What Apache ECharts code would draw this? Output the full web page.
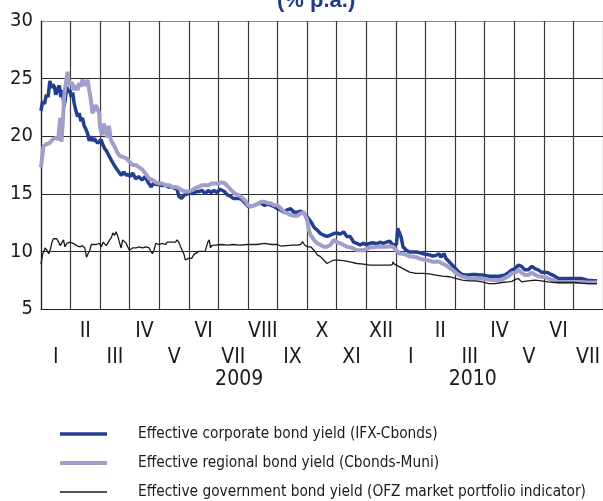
<!DOCTYPE html>
<html>
<head>
<meta charset="utf-8">
<script src="https://cdn.jsdelivr.net/npm/echarts@6/dist/echarts.min.js"></script>
<style>
  html, body { margin: 0; padding: 0; background: #fff; }
  #chart { width: 603px; height: 501px; }
</style>
</head>
<body>
<div id="chart"></div>
<script>
// time is in months counted from 1 January 2009 (0 = start of Jan 2009)
var monthLabels = ['I', 'II', 'III', 'IV', 'V', 'VI', 'VII', 'VIII', 'IX', 'X', 'XI', 'XII',
                   'I', 'II', 'III', 'IV', 'V', 'VI', 'VII'];
var yearLabels = ['2009', '2010'];
var yearPos = [6.7, 14.6];

var corporate = [
  [0, 22.2], [0.05, 23.0], [0.12, 22.8], [0.18, 23.6], [0.24, 23.4], [0.3, 24.8], [0.35, 24.2],
  [0.4, 24.5], [0.45, 24.3], [0.5, 23.6], [0.56, 24.1], [0.62, 24.4], [0.67, 23.4], [0.72, 24.0],
  [0.78, 22.6], [0.82, 23.2], [0.87, 24.3], [0.93, 23.8], [0.98, 24.0], [1.02, 23.4], [1.07, 23.8],
  [1.12, 22.9], [1.18, 22.2], [1.24, 21.7], [1.29, 22.0], [1.35, 21.3], [1.4, 21.6], [1.46, 20.9],
  [1.52, 20.6], [1.58, 20.2], [1.63, 19.6], [1.69, 20.0], [1.74, 19.6], [1.8, 19.8], [1.85, 19.6],
  [1.92, 19.4], [1.97, 19.5], [2.03, 19.7], [2.1, 19.2], [2.16, 18.9], [2.22, 18.7], [2.3, 18.3],
  [2.38, 17.9], [2.45, 17.6], [2.52, 17.3], [2.6, 17.0], [2.66, 16.8], [2.72, 16.6], [2.8, 16.9],
  [2.88, 16.6], [2.95, 16.7], [3.02, 16.5], [3.1, 16.8], [3.2, 16.3], [3.3, 16.5], [3.42, 16.2],
  [3.52, 16.5], [3.62, 16.0], [3.72, 15.6], [3.8, 15.9], [3.9, 15.8], [4.0, 15.8], [4.1, 15.7],
  [4.2, 15.8], [4.3, 15.6], [4.4, 15.6], [4.5, 15.5], [4.6, 15.4], [4.66, 14.8], [4.75, 14.6],
  [4.85, 14.9], [4.95, 15.0], [5.05, 15.2], [5.15, 15.0], [5.25, 15.2], [5.35, 15.2], [5.45, 15.3],
  [5.55, 15.0], [5.65, 15.3], [5.75, 15.1], [5.85, 15.3], [5.95, 15.1], [6.05, 15.4], [6.11, 15.5],
  [6.2, 15.2], [6.3, 14.9], [6.4, 14.8], [6.5, 14.6], [6.6, 14.6], [6.7, 14.6], [6.8, 14.5],
  [6.9, 14.2], [7.0, 13.9], [7.1, 13.9], [7.2, 14.0], [7.3, 14.1], [7.42, 14.2], [7.55, 14.0],
  [7.65, 14.1], [7.78, 14.0], [7.88, 13.9], [8.0, 13.7], [8.1, 13.6], [8.22, 13.4], [8.32, 13.6],
  [8.44, 13.7], [8.55, 13.4], [8.67, 13.4], [8.78, 13.5], [8.89, 13.3], [9.0, 13.0], [9.12, 12.6],
  [9.23, 12.1], [9.34, 11.85], [9.45, 11.55], [9.56, 11.4], [9.67, 11.3], [9.78, 11.4], [9.9, 11.55],
  [10.0, 11.6], [10.12, 11.5], [10.23, 11.7], [10.34, 11.3], [10.45, 11.3], [10.57, 10.8], [10.68, 10.7],
  [10.79, 10.55], [10.9, 10.7], [11.01, 10.6], [11.12, 10.7], [11.23, 10.75], [11.35, 10.65], [11.46, 10.8],
  [11.57, 10.7], [11.68, 10.8], [11.79, 10.9], [11.9, 10.55], [12.02, 10.6], [12.06, 12.0], [12.12, 11.9],
  [12.18, 11.2], [12.24, 10.4], [12.35, 10.1], [12.46, 9.95], [12.57, 9.95], [12.68, 9.95], [12.79, 9.9],
  [12.91, 9.8], [13.02, 9.75], [13.13, 9.7], [13.24, 9.6], [13.35, 9.65], [13.46, 9.8], [13.52, 9.5],
  [13.57, 9.5], [13.63, 9.8], [13.69, 9.4], [13.8, 9.1], [13.91, 8.8], [14.02, 8.5], [14.13, 8.2],
  [14.24, 8.0], [14.36, 7.95], [14.47, 7.95], [14.58, 8.0], [14.69, 8.0], [14.8, 7.95], [14.91, 7.95],
  [15.02, 7.9], [15.14, 7.85], [15.25, 7.85], [15.36, 7.85], [15.5, 7.85], [15.69, 7.95], [15.8, 8.15],
  [15.92, 8.4], [16.03, 8.5], [16.14, 8.8], [16.25, 8.7], [16.36, 8.4], [16.47, 8.4], [16.6, 8.7],
  [16.7, 8.5], [16.81, 8.4], [16.92, 8.2], [17.03, 8.2], [17.14, 8.15], [17.25, 8.0], [17.37, 7.85],
  [17.48, 7.65], [17.6, 7.65], [17.81, 7.65], [18.03, 7.65], [18.26, 7.65], [18.48, 7.5], [18.7, 7.45],
  [18.8, 7.45]
];

var regional = [
  [0, 17.3], [0.04, 18.2], [0.08, 19.1], [0.17, 19.3], [0.28, 19.4], [0.39, 19.7], [0.51, 19.9],
  [0.58, 19.7], [0.62, 20.8], [0.65, 21.6], [0.69, 19.5], [0.73, 20.9], [0.79, 23.7], [0.84, 24.6],
  [0.9, 25.6], [0.93, 24.9], [0.98, 24.4], [1.04, 24.7], [1.12, 24.0], [1.18, 24.4], [1.24, 24.0],
  [1.29, 24.6], [1.35, 24.3], [1.4, 24.9], [1.46, 24.6], [1.52, 24.4], [1.57, 24.9], [1.63, 25.0],
  [1.69, 23.1], [1.74, 22.0], [1.8, 22.3], [1.85, 22.7], [1.91, 22.6], [1.97, 22.0], [1.99, 20.9],
  [2.06, 20.1], [2.13, 21.1], [2.19, 20.3], [2.25, 19.9], [2.3, 20.9], [2.36, 19.7], [2.42, 19.4],
  [2.51, 19.0], [2.58, 18.6], [2.66, 18.3], [2.76, 18.2], [2.88, 18.1], [2.99, 17.8], [3.1, 17.5],
  [3.21, 17.5], [3.32, 17.3], [3.43, 17.1], [3.55, 16.7], [3.66, 16.3], [3.77, 16.2], [3.88, 16.0],
  [3.99, 15.9], [4.1, 15.9], [4.21, 15.75], [4.32, 15.75], [4.44, 15.6], [4.55, 15.6], [4.66, 15.5],
  [4.77, 15.3], [4.88, 15.2], [4.99, 15.2], [5.1, 15.3], [5.22, 15.5], [5.33, 15.6], [5.44, 15.75],
  [5.55, 15.75], [5.66, 15.75], [5.77, 15.9], [5.88, 15.9], [6.0, 15.9], [6.11, 16.0], [6.22, 15.9],
  [6.33, 15.6], [6.44, 15.3], [6.56, 15.0], [6.67, 14.9], [6.78, 14.7], [6.89, 14.45], [7.0, 14.0],
  [7.11, 13.9], [7.22, 14.0], [7.34, 14.15], [7.45, 14.3], [7.56, 14.3], [7.67, 14.2], [7.78, 14.15],
  [7.89, 14.0], [8.0, 14.0], [8.12, 13.7], [8.23, 13.4], [8.34, 13.3], [8.45, 13.15], [8.56, 13.1],
  [8.67, 13.1], [8.78, 13.3], [8.89, 13.4], [9.0, 12.7], [9.06, 11.85], [9.12, 11.4], [9.23, 11.0],
  [9.34, 10.7], [9.45, 10.55], [9.56, 10.4], [9.67, 10.4], [9.78, 10.55], [9.9, 11.0], [10.0, 10.8],
  [10.12, 10.7], [10.23, 10.55], [10.34, 10.4], [10.45, 10.35], [10.57, 10.25], [10.68, 10.1], [10.79, 10.1],
  [10.9, 10.1], [11.01, 10.2], [11.12, 10.35], [11.23, 10.35], [11.35, 10.4], [11.46, 10.4], [11.57, 10.4],
  [11.68, 10.4], [11.79, 10.45], [11.9, 10.4], [12.01, 10.1], [12.13, 9.8], [12.24, 9.8], [12.35, 9.7],
  [12.46, 9.55], [12.57, 9.55], [12.68, 9.5], [12.79, 9.4], [12.91, 9.3], [13.02, 9.25], [13.13, 9.2],
  [13.24, 9.1], [13.35, 9.1], [13.46, 9.1], [13.57, 8.95], [13.69, 8.8], [13.8, 8.6], [13.91, 8.4],
  [14.02, 8.15], [14.13, 7.95], [14.24, 7.8], [14.36, 7.75], [14.47, 7.65], [14.69, 7.65], [14.91, 7.65],
  [15.14, 7.55], [15.36, 7.5], [15.58, 7.55], [15.8, 7.85], [15.92, 8.1], [16.03, 8.15], [16.14, 8.4],
  [16.25, 8.15], [16.36, 7.95], [16.47, 7.95], [16.6, 8.15], [16.7, 8.0], [16.81, 7.85], [16.92, 7.8],
  [17.03, 7.8], [17.14, 7.65], [17.25, 7.55], [17.37, 7.5], [17.48, 7.35], [17.6, 7.35], [17.81, 7.35],
  [18.03, 7.35], [18.26, 7.35], [18.48, 7.3], [18.8, 7.3]
];

var government = [
  [0, 8.9], [0.03, 8.8], [0.06, 9.8], [0.1, 10.0], [0.14, 10.3], [0.2, 10.1], [0.26, 9.8],
  [0.32, 10.2], [0.37, 10.8], [0.42, 11.1], [0.47, 11.0], [0.53, 11.1], [0.58, 10.9], [0.65, 10.5],
  [0.7, 10.6], [0.76, 11.0], [0.81, 10.4], [0.87, 10.7], [0.98, 10.8], [1.09, 10.7], [1.2, 10.5],
  [1.32, 10.4], [1.4, 10.5], [1.48, 10.3], [1.54, 9.5], [1.59, 9.8], [1.65, 10.1], [1.7, 10.6],
  [1.76, 10.7], [1.87, 10.6], [1.98, 10.7], [2.04, 10.4], [2.1, 10.8], [2.21, 10.5], [2.32, 11.0],
  [2.38, 11.2], [2.43, 11.6], [2.49, 11.4], [2.54, 11.7], [2.6, 11.3], [2.65, 10.8], [2.71, 10.3],
  [2.76, 11.0], [2.82, 11.0], [2.88, 10.7], [2.93, 10.4], [2.99, 10.1], [3.1, 10.3], [3.21, 10.3],
  [3.32, 10.4], [3.43, 10.3], [3.55, 10.4], [3.66, 10.3], [3.71, 10.0], [3.77, 9.8], [3.82, 10.1],
  [3.88, 10.7], [3.99, 10.6], [4.1, 10.7], [4.21, 10.6], [4.27, 10.8], [4.38, 10.8], [4.44, 10.7],
  [4.55, 10.8], [4.6, 11.0], [4.66, 10.8], [4.72, 10.4], [4.77, 10.1], [4.83, 9.8], [4.88, 9.25],
  [4.94, 9.1], [4.99, 9.4], [5.05, 9.5], [5.1, 9.4], [5.16, 9.7], [5.22, 9.8], [5.33, 10.0],
  [5.44, 10.0], [5.55, 10.0], [5.6, 10.1], [5.64, 10.8], [5.69, 11.0], [5.73, 10.3], [5.77, 10.5],
  [5.83, 10.5], [5.89, 10.55], [6.1, 10.6], [6.3, 10.55], [6.5, 10.6], [6.7, 10.55], [7.0, 10.6],
  [7.3, 10.6], [7.56, 10.7], [7.8, 10.6], [8.0, 10.6], [8.12, 10.45], [8.3, 10.5], [8.5, 10.55],
  [8.67, 10.55], [8.78, 10.6], [8.84, 10.85], [8.9, 10.6], [9.0, 10.4], [9.12, 10.4], [9.23, 10.1],
  [9.34, 9.7], [9.45, 9.55], [9.56, 9.25], [9.67, 8.95], [9.78, 9.1], [9.9, 9.25], [10.0, 9.25],
  [10.23, 9.2], [10.45, 9.1], [10.68, 8.95], [10.9, 8.9], [11.12, 8.8], [11.35, 8.8], [11.57, 8.8],
  [11.79, 8.8], [11.88, 8.85], [11.9, 9.1], [11.95, 8.9], [12.01, 8.8], [12.24, 8.5], [12.46, 8.2],
  [12.68, 8.1], [12.91, 8.1], [13.13, 8.05], [13.35, 7.95], [13.57, 7.85], [13.8, 7.8], [14.02, 7.65],
  [14.24, 7.5], [14.47, 7.45], [14.69, 7.45], [14.91, 7.35], [15.14, 7.2], [15.36, 7.2], [15.58, 7.3],
  [15.8, 7.35], [15.92, 7.4], [16.03, 7.55], [16.08, 7.7], [16.14, 7.65], [16.25, 7.35], [16.47, 7.45],
  [16.7, 7.5], [16.92, 7.45], [17.14, 7.35], [17.37, 7.3], [17.6, 7.3], [18.03, 7.3], [18.48, 7.2],
  [18.8, 7.2]
];

var seriesNames = [
  'Effective corporate bond yield (IFX-Cbonds)',
  'Effective regional bond yield (Cbonds-Muni)',
  'Effective government bond yield (OFZ market portfolio indicator)'
];
var seriesColors = ['#203f93', '#a19ecb', '#1a1a1a'];
var seriesWidths = [3.5, 4, 1.3];

var FONT = "'DejaVu Sans Condensed', 'Liberation Sans Narrow', sans-serif";

var myChart = echarts.init(document.getElementById('chart'));

function monthAxis(showOdd, margin) {
  return {
    type: 'category',
    data: monthLabels,
    boundaryGap: true,
    position: 'bottom',
    axisLine: { show: false },
    axisTick: { show: false },
    splitLine: { show: false },
    axisLabel: {
      interval: 0,
      margin: margin,
      color: '#1a1a1a',
      fontFamily: FONT,
      fontSize: 21,
      formatter: function (v, i) {
        return (i % 2 === 1) === showOdd ? v : '';
      }
    }
  };
}

var option = {
  backgroundColor: '#fff',
  animation: false,
  grid: { left: 41, right: -6, top: 21, bottom: 192, containLabel: false },
  xAxis: [
    {
      type: 'value',
      min: 0,
      max: 19,
      interval: 1,
      axisLine: { show: true, lineStyle: { color: '#222', width: 1.2 } },
      axisTick: { show: false },
      axisLabel: { show: false },
      splitLine: { show: true, lineStyle: { color: '#3a3a3a', width: 1.2 } }
    },
    monthAxis(true, 12),
    monthAxis(false, 38)
  ],
  yAxis: {
    type: 'value',
    min: 5,
    max: 30,
    interval: 5,
    axisLine: { show: true, lineStyle: { color: '#222', width: 1.2 } },
    axisTick: { show: false },
    axisLabel: { color: '#1a1a1a', fontFamily: FONT, fontSize: 20, margin: 8 },
    splitLine: {
      show: true,
      lineStyle: { color: ['#2a2a2a', '#2a2a2a', '#2a2a2a', '#2a2a2a', '#2a2a2a', '#8c8c8c'], width: 1.2 }
    }
  },
  legend: {
    orient: 'vertical',
    left: 53,
    top: 421,
    height: 80,
    itemWidth: 47,
    itemHeight: 14,
    itemGap: 13,
    itemStyle: { opacity: 0 },
    textStyle: {
      color: '#1a1a1a', fontFamily: FONT, fontSize: 15.3, lineHeight: 16,
      padding: [0, 0, 0, 26]
    },
    data: seriesNames.map(function (n, i) {
      return { name: n, lineStyle: { width: Math.max(seriesWidths[i], 1.5), color: seriesColors[i] } };
    })
  },
  graphic: [
    {
      type: 'text',
      left: 277,
      top: -10,
      style: { text: '(% p.a.)', font: "bold 22px 'Liberation Sans', sans-serif", fill: '#1f3a93' }
    }
  ],
  series: [0, 1, 2].map(function (i) {
    return {
      name: seriesNames[i],
      type: 'line',
      data: [corporate, regional, government][i],
      symbol: 'none',
      lineStyle: { color: seriesColors[i], width: seriesWidths[i] },
      itemStyle: { color: seriesColors[i] }
    };
  })
};

myChart.setOption(option);

// year captions under the month rows
var yearGraphics = yearLabels.map(function (label, i) {
  var px = myChart.convertToPixel({ xAxisIndex: 0 }, yearPos[i]);
  return {
    type: 'text',
    x: px,
    y: 369,
    style: {
      text: label,
      font: "21px " + FONT,
      fill: '#1a1a1a',
      align: 'center',
      verticalAlign: 'top'
    }
  };
});
myChart.setOption({ graphic: option.graphic.concat(yearGraphics) });
</script>
</body>
</html>
